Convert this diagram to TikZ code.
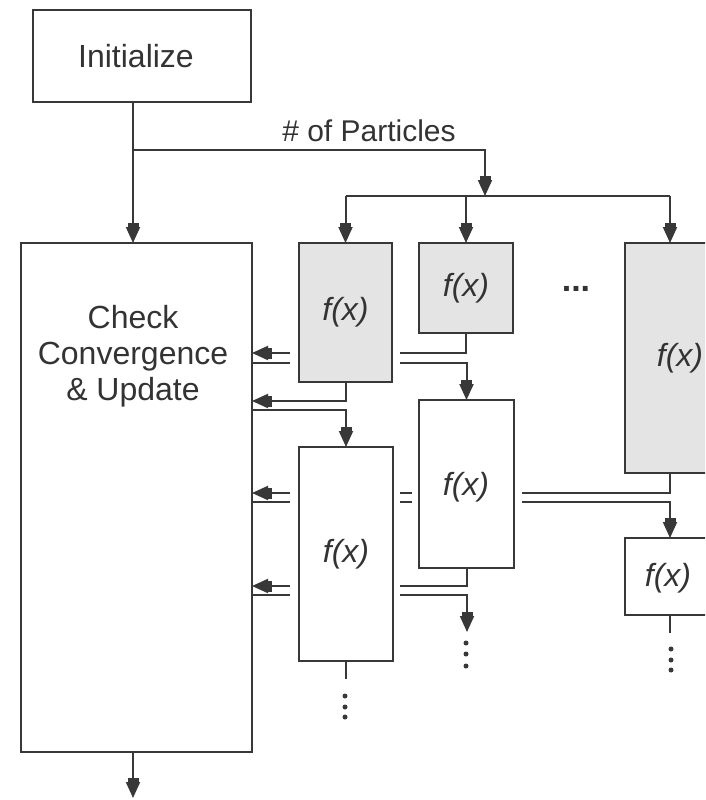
\documentclass[tikz,border=0pt]{standalone}
\usepackage{fontspec}
\setmainfont{Liberation Sans}
\usetikzlibrary{arrows.meta,calc}

\definecolor{lc}{HTML}{383838}
\definecolor{tc}{HTML}{333333}
\definecolor{shade}{HTML}{E4E4E4}

\begin{document}
\begin{tikzpicture}[x=1pt,y=-1pt,
  box/.style={draw=lc, line width=2pt, inner sep=0pt, outer sep=0pt,
              anchor=north west, text=tc},
  gbox/.style={box, fill=shade},
  fx/.style={font=\fontsize{32}{36}\selectfont\itshape, text=tc, inner sep=0pt},
  conn/.style={draw=lc, line width=2pt},
  arr/.style={conn, -{Rectangle[length=5pt,width=11pt,sep=-1pt]Triangle[width=14pt,length=16pt]}},
  dot/.style={fill=lc}
]
\path[use as bounding box, clip] (0,0) rectangle (705,800);

% boxes
\node[box, minimum width=218pt, minimum height=92pt] (init) at (33,10) {};
\node[text=tc, font=\fontsize{32}{36}\selectfont] (inittxt) at (136,56) {Initialize};
\node[box, minimum width=231pt, minimum height=509pt] (main) at (21,243) {};
\node[text=tc, align=center, font=\fontsize{32}{36}\selectfont] (maintxt)
     at (133,356) {Check\\Convergence\\\& Update};

\node[gbox, minimum width=93pt, minimum height=139pt] (g1) at (299,243) {};
\node[gbox, minimum width=94pt, minimum height=90pt]  (g2) at (419,243) {};
\node[gbox, minimum width=112pt, minimum height=230pt] (g3) at (625,243) {};
\node[box, minimum width=95pt, minimum height=168pt] (b4) at (419,400) {};
\node[box, minimum width=94pt, minimum height=214pt] (b5) at (299,447) {};
\node[box, minimum width=86pt, minimum height=77pt]  (b6) at (625,538) {};

\node[fx] at (g1.center) {f(x)};
\node[fx] at (g2.center) {f(x)};
\node[fx] at (680,358) {f(x)};
\node[fx] at (466,487) {f(x)};
\node[fx] at (b5.center) {f(x)};
\node[fx] at (668,578) {f(x)};
\node[text=tc, font=\fontsize{34}{36}\selectfont\bfseries, inner sep=0pt, anchor=base]
     (hdots) at (576,291) {...};

% pins and junctions
\coordinate (split) at (133,150);
\coordinate (pbus) at (485,196);
\coordinate (g3in) at (670,243);
\coordinate (g3out) at (670,473);
\coordinate (b6in) at (670,538);
\coordinate (b6out) at (670,615);
\coordinate (exit) at (133,798);

% initialisation and particle distribution
\draw[arr] (init.south -| split) -- (main.north -| split);
\draw[arr] (split) -| (pbus);
\node[text=tc, font=\fontsize{30}{34}\selectfont] (lbl) at (369,131) {\# of Particles};
\draw[conn] (g1.north |- pbus) -- (g3in |- pbus);
\draw[arr] (g1.north |- pbus) -- (g1.north);
\draw[arr] (g2.north |- pbus) -- (g2.north);
\draw[arr] (g3in |- pbus) -- (g3in);
\draw[arr] (main.south -| split) -- (exit);

% row A: g2 -> update, update -> b4
\coordinate (aL1) at (290,353); \coordinate (aR1) at (400,353);
\coordinate (aL2) at (290,363); \coordinate (aR2) at (400,363);
\draw[conn] (g2.south) |- (aR1);
\draw[arr] (aL1) -- (main.east |- aL1);
\draw[conn] (main.east |- aL2) -- (aL2);
\draw[arr] (aR2) -| (b4.north);

% row B: g1 -> update, update -> b5
\coordinate (bU) at (0,401); \coordinate (bD) at (0,410);
\draw[arr] (g1.south) |- (main.east |- bU);
\draw[arr] (main.east |- bD) -| (b5.north);

% row C: g3 -> update, update -> b6
\coordinate (cL1) at (290,493); \coordinate (cM1) at (400,493);
\coordinate (cN1) at (412,493); \coordinate (cR1) at (522,493);
\coordinate (cL2) at (290,502); \coordinate (cM2) at (400,502);
\coordinate (cN2) at (412,502); \coordinate (cR2) at (522,502);
\draw[conn] (g3out) |- (cR1);
\draw[conn] (cM1) -- (cN1);
\draw[arr] (cL1) -- (main.east |- cL1);
\draw[conn] (main.east |- cL2) -- (cL2);
\draw[conn] (cM2) -- (cN2);
\draw[arr] (cR2) -| (b6in);

% row D: b4 -> update, update -> next
\coordinate (dL1) at (290,586); \coordinate (dR1) at (400,586);
\coordinate (dL2) at (290,595); \coordinate (dR2) at (400,595);
\coordinate (dEnd) at (467,632);
\draw[conn] (b4.south) |- (dR1);
\draw[arr] (dL1) -- (main.east |- dL1);
\draw[conn] (main.east |- dL2) -- (dL2);
\draw[arr] (dR2) -| (dEnd);

% open ends
\coordinate (b5stub) at (346,679);
\coordinate (b6stub) at (670,633);
\draw[conn] (b5.south) -- (b5stub);
\draw[conn] (b6out) -- (b6stub);

% vertical ellipses
\foreach \y in {696,707,717} \fill[dot] (345,\y) circle[radius=2.5pt];
\foreach \y in {643,654,666} \fill[dot] (466,\y) circle[radius=2.5pt];
\foreach \y in {649,660,670} \fill[dot] (671,\y) circle[radius=2.5pt];
\end{tikzpicture}
\end{document}
